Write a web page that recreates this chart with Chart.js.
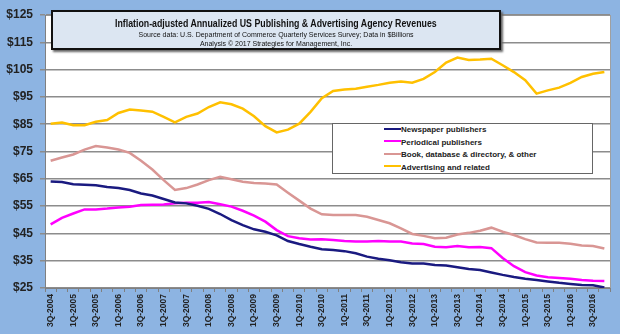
<!DOCTYPE html>
<html>
<head>
<meta charset="utf-8">
<script src="https://cdn.jsdelivr.net/npm/chart.js@4.4.1/dist/chart.umd.min.js"></script>
<style>
  body { margin: 0; background: #8db4e2; }
  #wrap { position: relative; width: 620px; height: 334px; background: #8db4e2; font-family: Arial, "Liberation Sans", sans-serif; }
  #title-box {
    position: absolute; left: 51px; top: 10px; width: 446px; height: 36px;
    background: #dce6f2; border: 2px solid #111; box-shadow: 2px 2px 2px #666;
    text-align: center; color: #111;
  }
  #title-box .t1 { font-weight: bold; font-size: 10px; line-height: 12px; margin-top: 6px; }
  #title-box .t1 span { display: inline-block; transform: scaleX(0.88); white-space: nowrap; }
  #title-box .t2 { font-size: 7px; line-height: 9px; }
  #legend-box {
    position: absolute; left: 332px; top: 123px; width: 259px; height: 49px;
    background: #fff; border: 1px solid #666;
  }
  .leg-row { position: absolute; left: 51px; height: 12px; font-weight: bold; font-size: 8px; line-height: 12px; color: #222; white-space: nowrap; }
  .leg-row span { display: inline-block; width: 17px; height: 2px; vertical-align: middle; margin-right: 0; position: relative; top: -1px; }
</style>
</head>
<body>
<div id="wrap">
  <canvas id="rev-graph" width="620" height="334"></canvas>
  <div id="title-box">
    <div class="t1"><span>Inflation-adjusted Annualized US Publishing &amp; Advertising Agency Revenues</span></div>
    <div class="t2">Source data: U.S. Department of Commerce Quarterly Services Survey; Data in $Billions</div>
    <div class="t2">Analysis © 2017 Strategies for Management, Inc.</div>
  </div>
  <div id="legend-box"></div>
</div>
<script>
var quarters = [
  '3Q-2004','4Q-2004',
  '1Q-2005','2Q-2005','3Q-2005','4Q-2005',
  '1Q-2006','2Q-2006','3Q-2006','4Q-2006',
  '1Q-2007','2Q-2007','3Q-2007','4Q-2007',
  '1Q-2008','2Q-2008','3Q-2008','4Q-2008',
  '1Q-2009','2Q-2009','3Q-2009','4Q-2009',
  '1Q-2010','2Q-2010','3Q-2010','4Q-2010',
  '1Q-2011','2Q-2011','3Q-2011','4Q-2011',
  '1Q-2012','2Q-2012','3Q-2012','4Q-2012',
  '1Q-2013','2Q-2013','3Q-2013','4Q-2013',
  '1Q-2014','2Q-2014','3Q-2014','4Q-2014',
  '1Q-2015','2Q-2015','3Q-2015','4Q-2015',
  '1Q-2016','2Q-2016','3Q-2016','4Q-2016'
];

var newspaper = [64.0,63.8,63.0,62.8,62.6,62.0,61.6,60.9,59.6,58.9,
                 57.6,56.3,56.0,55.1,54.0,52.1,49.9,48.0,46.5,45.6,
                 44.3,42.2,41.1,40.1,39.2,38.9,38.5,37.7,36.5,35.7,
                 35.2,34.4,34.0,34.0,33.4,33.2,32.6,32.0,31.6,30.7,
                 29.8,29.0,28.4,27.9,27.4,26.9,26.5,26.1,26.0,25.2];

var periodical = [48.3,50.7,52.3,53.8,53.8,54.1,54.5,54.8,55.4,55.5,
                  55.6,56.0,56.2,56.2,56.5,55.7,54.8,53.3,51.5,49.3,
                  46.2,44.0,43.2,42.8,42.9,42.6,42.2,42.0,42.0,42.2,
                  42.0,42.0,41.3,41.1,40.1,39.9,40.4,39.9,40.0,39.6,
                  36.0,33.0,30.8,29.6,28.9,28.7,28.4,27.9,27.7,27.6];

var book = [71.6,72.8,73.9,75.7,77.0,76.5,75.7,74.5,71.6,68.4,
            64.5,60.9,61.6,62.9,64.5,65.7,64.8,63.9,63.5,63.3,
            62.9,59.9,57.0,54.1,52.0,51.7,51.7,51.7,51.1,49.9,
            48.7,46.8,44.8,44.1,43.2,43.4,44.6,45.2,46.0,47.1,
            45.6,44.4,42.9,41.7,41.6,41.6,41.2,40.6,40.4,39.5];

var advertising = [85.2,85.6,84.6,84.6,85.9,86.5,89.1,90.4,90.0,89.6,
                   87.7,85.7,87.7,88.9,91.3,93.0,92.3,90.7,87.9,84.3,
                   82.0,83.0,85.2,89.5,94.5,97.2,97.7,98.0,98.7,99.4,
                   100.2,100.6,100.2,101.6,104.1,107.6,109.4,108.5,108.7,109.0,
                   106.6,104.1,101.1,96.2,97.4,98.4,100.1,102.3,103.5,104.1];

var seriesNames = ['Newspaper publishers', 'Periodical publishers', 'Book, database & directory, & other', 'Advertising and related'];
var seriesColors = ['#1a1a80', '#ff00ff', '#d99694', '#ffc000'];

var yMin = 25, yMax = 125, yStep = 10;

// white plot area + thin border, drawn under the lines
var plotArea = {
    id: 'plotArea',
    beforeDraw: function(chart) {
        var c = chart.ctx, a = chart.chartArea;
        c.save();
        c.fillStyle = '#ffffff';
        c.fillRect(a.left, a.top, a.right - a.left, a.bottom - a.top);
        c.strokeStyle = '#a0a0a0';
        c.lineWidth = 1;
        c.strokeRect(a.left + 0.5, a.top + 0.5, a.right - a.left, a.bottom - a.top);
        c.restore();
    }
};

var allSeries = [newspaper, periodical, book, advertising];
var datasets = allSeries.map(function(vals, i) {
    return {
        label: seriesNames[i],
        data: vals,
        borderColor: seriesColors[i],
        backgroundColor: seriesColors[i],
        borderWidth: 2.5,
        pointRadius: 0,
        tension: 0,
        fill: false
    };
});

var ctx = document.getElementById('rev-graph');
new Chart(ctx, {
    type: 'line',
    data: { labels: quarters, datasets: datasets },
    options: {
        responsive: false,
        animation: false,
        layout: { padding: { top: 15, right: 10, left: 0, bottom: 0 } },
        plugins: {
            legend: { display: false },
            title: { display: false },
            tooltip: { enabled: false }
        },
        scales: {
            x: {
                offset: true,
                grid: { display: true, drawOnChartArea: false, offset: true, tickLength: 4, color: '#808080' },
                border: { color: '#808080', width: 1 },
                afterFit: function(scale) { scale.height = 46; },
                ticks: {
                    autoSkip: false,
                    minRotation: 90,
                    maxRotation: 90,
                    padding: 2,
                    color: '#222',
                    font: { family: 'Arial, "Liberation Sans"', size: 8.5, weight: 'bold' },
                    callback: function(v, i) { return i % 2 === 0 ? quarters[i] : ''; }
                }
            },
            y: {
                min: yMin,
                max: yMax,
                grid: { color: '#8c8c8c', lineWidth: 1.5, tickLength: 5 },
                border: { color: '#808080', width: 1 },
                afterFit: function(scale) { scale.width = 45; },
                ticks: {
                    stepSize: yStep,
                    padding: 7,
                    color: '#222',
                    font: { family: 'Arial, "Liberation Sans"', size: 12, weight: 'bold' },
                    callback: function(v) { return '$' + v; }
                }
            }
        }
    },
    plugins: [plotArea]
});

// legend inside the plot, built from the series names/colours
var output = '';
seriesNames.forEach(function(name, i) {
    output += '<div class="leg-row" style="top:' + (i * 12.5) + 'px"><span style="background:' + seriesColors[i] + '"></span>' + name.replace(/&/g, '&amp;') + '</div>';
});
document.getElementById('legend-box').innerHTML = output;
</script>
</body>
</html>
